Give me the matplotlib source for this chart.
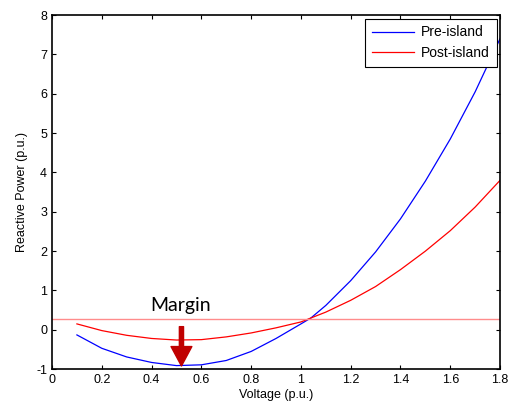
import numpy as np
import matplotlib
matplotlib.use("Agg")
import matplotlib.pyplot as plt

# values
voltage = [0.1, 0.2, 0.3, 0.4, 0.5, 0.6, 0.7, 0.8, 0.9, 1.0, 1.04, 1.1, 1.2, 1.3, 1.4, 1.5, 1.6, 1.7, 1.8]
pre_island = [-0.13, -0.47, -0.69, -0.83, -0.91, -0.89, -0.78, -0.55, -0.22, 0.15, 0.3, 0.62, 1.25, 1.98, 2.82, 3.78, 4.85, 6.05, 7.4]
post_island = [0.15, -0.02, -0.14, -0.22, -0.26, -0.25, -0.18, -0.08, 0.05, 0.2, 0.3, 0.45, 0.75, 1.1, 1.53, 2.0, 2.52, 3.12, 3.8]
margin_level = 0.28
margin_x = 0.52
margin_top = 0.08
margin_bottom = -0.92

plt.rcParams['font.family'] = ['Liberation Sans', 'DejaVu Sans']
plt.rcParams['axes.unicode_minus'] = False

fig = plt.figure(figsize=(5.15, 4.07), dpi=100)
ax = fig.add_axes([0.101, 0.093, 0.870, 0.870])

ax.plot(voltage, pre_island, color="blue", lw=0.9, label="Pre-island")
ax.plot(voltage, post_island, color="red", lw=0.9, label="Post-island")
ax.axhline(margin_level, color="#ff8c8c", lw=1.0)

ax.annotate("", xy=(margin_x, margin_bottom), xytext=(margin_x, margin_top),
            arrowprops=dict(facecolor="#c00000", edgecolor="#c00000", width=3,
                            headwidth=15, headlength=14))
ax.text(margin_x - 0.005, 0.4, "Margin", ha="center", va="bottom", fontsize=14,
        family=["Lato", "DejaVu Sans"])

ax.set_xlim(0, 1.8)
ax.set_ylim(-1, 8)
ax.set_xticks(np.arange(0, 1.81, 0.2))
ax.set_xticklabels(["0", "0.2", "0.4", "0.6", "0.8", "1", "1.2", "1.4", "1.6", "1.8"])
ax.set_yticks(range(-1, 9))
ax.tick_params(direction="in", top=True, right=True, labelsize=9, length=3)
for s in ax.spines.values():
    s.set_linewidth(1.2)

ax.set_xlabel("Voltage (p.u.)", fontsize=9, labelpad=2)
ax.set_ylabel("Reactive Power (p.u.)", fontsize=9, labelpad=6)

leg = ax.legend(loc="upper right", fontsize=10, fancybox=False, framealpha=1,
                edgecolor="black", borderaxespad=0.25, handlelength=3.0,
                handletextpad=0.5, borderpad=0.5, labelspacing=0.45)
leg.get_frame().set_linewidth(0.8)

fig.savefig("out.png", dpi=100)
